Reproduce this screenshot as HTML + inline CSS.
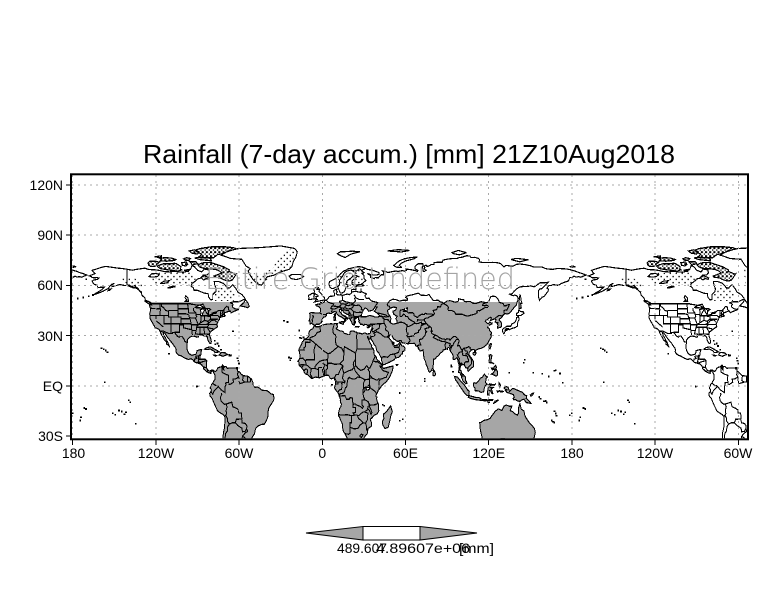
<!DOCTYPE html>
<html><head><meta charset="utf-8"><style>
html,body{margin:0;padding:0;background:#fff;}
svg{display:block;}
text{font-family:"Liberation Sans",sans-serif;}
</style></head><body>
<svg width="784" height="612" viewBox="0 0 784 612" xmlns="http://www.w3.org/2000/svg" xmlns:xlink="http://www.w3.org/1999/xlink">
<defs>
<clipPath id="frame"><rect x="72" y="175.3" width="675" height="263"/></clipPath>
<clipPath id="gclip" clipPathUnits="userSpaceOnUse"><rect x="-180" y="-40" width="335" height="90"/></clipPath>
<pattern id="dense" patternUnits="userSpaceOnUse" x="0" y="0" width="3" height="2.4"><rect x="0" y="0" width="1.5" height="1.2" fill="#000"/><rect x="2.1" y="1.4" width="0.8" height="0.9" fill="#000"/></pattern>
<pattern id="sparse" patternUnits="userSpaceOnUse" x="0" y="0" width="4.3" height="3.6"><rect x="0" y="0" width="1" height="0.8" fill="#000"/><rect x="2.3" y="1.9" width="0.9" height="0.8" fill="#000"/></pattern>
<g id="arc">
<polygon points="-61.9,66.9 -63.5,64.8 -65.2,62.9 -68,62.5 -71.5,63.5 -73.5,64.4 -77.5,64.8 -78.2,65.5 -74,66.8 -72.5,67.4 -74,68.5 -77,69.5 -80.5,69.8 -83,70 -86,70.2 -88.5,71 -89.8,72.2 -87,73.3 -84.5,73.6 -80.5,73.6 -77,72.7 -74,71.8 -71,71 -69,70 -67,69.2 -67.5,68.3 -64.5,67.4 -62.5,66.7"/>
<polygon points="-87.3,64.8 -85.5,65.8 -83.5,65.2 -81.3,64.4 -81.7,63.6 -83.5,64 -85.5,63.2 -86.5,63.7"/>
<polygon points="-118.5,71 -117,70 -113,69.4 -107.5,68.8 -104.5,68.4 -101.3,69.2 -102.3,69.8 -101.9,71.1 -105,72.8 -106.5,73.2 -110,72.8 -114,73 -117,72.2 -119,71.6"/>
<polygon points="-125.2,72 -123.7,71.2 -120.4,71.4 -119.2,72.6 -117.4,73.8 -120.5,74.3 -124.5,74.3 -125.8,73.3"/>
<polygon points="-89.5,76.9 -84,76.4 -78.5,76.4 -75.5,78.3 -72.5,78.8 -68,80.2 -62,81.8 -64,82.5 -70,83 -80,83 -88,82 -91.5,81 -90.5,80 -87,78.5 -88.5,77.3"/>
<polygon points="-92,76.3 -88,75.3 -80,74.6 -80.2,75.6 -81.5,76.5 -85,76.4 -90,76.6"/>
<polygon points="-96,80.5 -92,81.2 -89,80 -90,78.6 -94,79.2"/>
<polygon points="-98,76.5 -100,75.8 -98.5,74.8 -96,75 -95,76"/>
<polygon points="-117,76 -114,76.5 -109,76.3 -105.5,75.4 -106.5,74.8 -112,74.4 -117,74.5 -116,75.4"/>
<polygon points="-101.5,73.5 -98,73.9 -97,72.5 -98.5,71.5 -101,72"/>
<polygon points="-95.5,74 -91,74 -90,73 -93.5,72.1"/>
<polygon points="-99.5,69 -96,69.5 -96.5,68.3"/>
<polygon points="-121,77 -116,77.6 -116,76.5"/>
</g>
<g id="clut">
<polygon points="-122,60.5 -95,60 -90,64 -95,68 -115,68.3 -126,65"/>
<polygon points="-78,50.5 -64,50.5 -62,56 -70,59 -77,58"/>
<polygon points="-140,60 -130,57 -128,60 -135,64 -145,64"/>
<polygon points="9,59 30,60 30,70 20,70 12,65"/>
<polygon points="-55,61 -42,60.2 -38,65.5 -22,70 -20,80 -25,82 -30,78 -36,70 -46,66 -52,68 -56,72"/>
</g>
<g id="land">
<polygon points="-168,65.6 -166,66.3 -164,67 -166,68.9 -163,69.7 -160,70.5 -156.5,71.3 -152,70.8 -148,70.3 -144,70 -141,69.6 -137,69 -134,69.5 -130,70 -128,70.2 -125,69.4 -120,69.2 -117,68.8 -114,68.2 -110,68 -106,68.4 -104,68 -100,67.8 -97,68.5 -95,69.5 -94,71.8 -92,71 -90,69 -87,68 -85,69.7 -82,69.2 -81.5,67.5 -83,66.2 -86,66.2 -87,64.5 -88,64.2 -90,63.8 -91,62.8 -94,61 -94.7,59.5 -93,58.5 -92.5,57 -90,57 -88,56.3 -85,55.3 -82.3,55 -82,53 -80.5,51.3 -79,51.5 -79,54.5 -76.8,56.3 -76.5,58 -77.5,60 -78,62.3 -75,62.3 -71.5,61.2 -69.5,59.5 -69,58.8 -67,58.3 -65,60 -64.5,60.3 -62,57.7 -61,56 -58,54.5 -56,52.5 -55.7,51.6 -57,51.4 -60,50.2 -64,50.2 -66.5,49.5 -65,49.2 -64.3,48.5 -65,47.8 -64.7,46.9 -63,46 -61,45.6 -60,46.2 -60.5,45.5 -63.5,44.5 -65.8,43.6 -66.2,44.5 -67,44.6 -69,44 -70.3,43.6 -70.8,42.5 -70,41.8 -70.5,41.5 -71.5,41.4 -73.5,40.9 -74,40.5 -74.3,39.5 -75,38.8 -75.3,38 -76,37 -75.8,36 -75.5,35.3 -76.5,34.7 -77.8,34 -79,33.2 -80.5,32.3 -81.3,31.2 -81.3,30 -80.5,28.3 -80,26.5 -80.3,25.3 -81,25.2 -81.8,26.2 -82.6,27.6 -82.8,29 -84,30 -85.3,29.7 -86.5,30.4 -88,30.5 -89.3,30.3 -89.4,29.2 -90.5,29 -91.5,29.5 -93.5,29.7 -94.8,29.4 -96.5,28.3 -97.4,27.2 -97.3,25.8 -97.7,24.2 -97.7,22.5 -97.2,21 -96.2,19.3 -95,18.6 -94,18.2 -92.5,18.6 -91.3,18.6 -90.6,19.8 -90.4,21 -88.3,21.5 -87,21.5 -87.5,20 -87.6,18.7 -88.2,17.6 -88.3,16 -87.6,15.8 -86,15.9 -84.3,15.8 -83.3,15 -83.4,13 -83.7,11.2 -83,10 -82,9 -81,8.8 -80,9.3 -79,9.5 -77.8,8.8 -77,8.5 -76,9.5 -75.5,10.5 -74.5,11 -73,11.3 -71.8,12.4 -71,11.5 -71.9,11 -71.6,10 -71,9.5 -71.3,10.8 -70,11.6 -69.5,11.5 -68.5,10.5 -66,10.6 -64,10.6 -62,10.7 -61,10 -61,8.7 -59.8,8.3 -58.5,7 -57,6 -55,5.9 -53.5,5.6 -52,4.6 -51.2,4.1 -50,2 -50,1 -49.5,-0.3 -48.3,-1 -47,-0.7 -45,-1.5 -44,-2.5 -42,-2.8 -40,-2.9 -38.5,-3.7 -37,-4.8 -35.3,-5.2 -34.8,-7.5 -35.3,-9 -36.5,-10.5 -37.5,-11.8 -38.5,-13 -39,-15 -39,-17.5 -39.7,-19.5 -40.5,-21 -41.2,-22.2 -42,-23 -43.5,-23 -44.7,-23.4 -46.5,-24 -48,-25.5 -48.6,-27 -48.8,-28.5 -50,-30 -51,-31.5 -52.5,-33.2 -53.5,-34.2 -54.5,-34.8 -56.5,-34.8 -58.3,-34 -57,-36 -57.3,-37.5 -58,-38.5 -62,-39 -62.3,-40.5 -65,-41 -64,-42.5 -65.3,-44.5 -67.5,-46.3 -66,-47.5 -68,-50 -69,-51.5 -68.5,-52.5 -68.3,-54 -66.5,-55 -70,-55.3 -74,-53 -75.5,-50 -74.5,-46 -73.5,-42.5 -73.6,-40 -73.5,-37.5 -72.5,-35.5 -71.6,-33 -71.5,-30 -71.3,-28 -70.5,-25 -70.3,-22 -70.2,-18.5 -71.5,-17.2 -73.5,-16.2 -75.5,-15 -76.3,-13.5 -77.2,-12 -78.5,-9.5 -79.5,-7.5 -81,-6 -81.2,-4.5 -80.2,-3.4 -80,-2.3 -80.9,-1.3 -80,0.3 -80,0.8 -79,1.5 -78.5,2.5 -77.5,3.8 -77.4,6.5 -78,7.3 -78.5,8.3 -79.5,8.9 -80.5,8 -80.3,7.4 -81.5,7.7 -82.8,8.2 -83.7,8.7 -85,9.8 -85.8,10.2 -85.7,11.2 -87,12.5 -87.7,13 -89.5,13.5 -91.5,13.9 -92.5,14.6 -93.5,15.6 -94.7,16.2 -96.5,15.7 -98.5,16.3 -100.5,17.2 -101.8,17.9 -103.5,18.3 -104.8,19.3 -105.6,20.4 -105.3,21.5 -105.8,22.6 -106.9,23.8 -108.1,25.4 -109.3,26.5 -110.6,27.9 -111.7,29 -112.8,30.5 -113.5,31.3 -114.8,31.8 -114.2,30 -113.2,28.8 -112.3,27.2 -111.3,25.8 -110.6,24.2 -109.9,22.9 -110.3,23.5 -111.5,24.5 -112.2,24.8 -112.3,26.3 -114,27.4 -114.3,28 -115.2,29.6 -116.2,30.8 -116.9,32.2 -117.2,32.7 -117.5,33.4 -118.5,34 -119.5,34.4 -120.6,34.6 -121,35.5 -121.9,36.6 -122.5,37.7 -123,38.3 -123.8,39.5 -124.3,40.4 -124.2,41.8 -124.5,42.8 -124,44.6 -124,46.2 -124.7,48.4 -123.5,48.2 -122.8,49 -124,49.8 -125.5,50.5 -127.5,51 -128,52.5 -130,54 -130.5,55.5 -132,57 -134.5,58.5 -136.5,58.5 -138.5,59.2 -140.5,59.8 -143.5,60 -146,60.5 -148,60 -149.5,59.7 -151.7,59.2 -151.5,60.5 -150,61.2 -152,60.5 -153.5,59.2 -154,58.3 -156.3,57.3 -158,56.5 -160,55.8 -162.5,55 -164.8,54.4 -162.5,55.6 -160,56.8 -158.5,57.8 -157.2,58.8 -160,58.8 -161.8,58.6 -162.3,60 -164.5,60.6 -165.3,61.5 -166,62.5 -164.8,63.2 -162,63.5 -161,64.3 -162.5,64.6 -164.5,64.5 -166,64.6 -166.5,65.2"/>
<polygon points="-5.6,36 -6.3,36.5 -7.5,37.2 -8.9,37 -8.8,38.5 -9.5,38.8 -8.8,41 -8.9,42.5 -9.2,43.2 -8,43.7 -6,43.6 -4,43.4 -1.8,43.4 -1.2,44.5 -1.2,46 -2.2,47.1 -4.3,47.8 -4.7,48.4 -3,48.8 -1.6,48.7 -1.4,49.7 0.2,49.5 1.5,50.1 1.6,50.9 3,51.3 4,51.9 4.7,52.9 5.5,53.4 7,53.5 8.5,53.6 8.9,54.3 8.6,55.5 8.1,56.6 8.6,57.1 10.5,57.7 10.3,56.5 10.8,56 10,55 10.9,54.4 12,54.2 13.5,54.4 14.3,53.9 16,54.3 18,54.8 19.5,54.4 21,55.3 21,56.5 21.2,57.3 22.5,57.7 24.3,57.2 24.4,58.3 23.5,58.7 23.4,59.3 25,59.5 28,59.5 30.2,59.9 29,60.3 27,60.5 23,59.9 21.3,60.8 21.5,62.5 22.5,63.5 24.5,64.8 25.4,65.4 24.6,65.8 22,65.7 21.2,64.8 19.8,63.8 18,62.8 17.3,61.5 17.2,60.6 18.8,60 18.5,59.3 16.7,58.6 16.5,57.2 15.8,56.1 14.2,55.4 12.9,55.5 12.6,56.2 11.8,57.6 11.2,58.9 10.6,59.8 9.9,59 8,58.1 6.5,58.1 5.6,58.8 5,60 5,61.5 5.3,62.3 7,62.9 8.5,63.5 10.5,64.5 12,65.6 13,66.8 14.5,67.8 15.6,68.6 17,69 18.5,69.8 21,70.2 23,70.7 25.5,71.1 28,71 30,70.5 31,70.1 33,69.4 36,69.1 38.5,68.3 41,67.6 41,66.5 38.8,66.1 35.5,66.3 33.5,66.7 32.5,67.1 33.8,66.3 34.8,65.9 34.7,64.6 36.5,64.4 37.5,63.9 38,64.6 40.5,64.5 42.5,66.4 44,66.2 44.3,67.9 43.5,68.6 46,68.2 47,67.6 49,67.9 51,68.3 53.5,68.5 54.5,68.2 56,68.5 58,68.8 59.5,68.4 60.8,68.9 60.3,69.7 64,69.3 67,68.8 68.5,68.2 69,68.9 67,69.8 66.8,70.8 67,71.5 68.5,72.5 69.5,72.9 72.5,72.8 72.8,71.5 71.8,71 72.5,70.2 72.5,68.5 73.6,68.2 74.8,69 73.6,69.8 74,70.8 73.1,71.4 74.8,72.1 75.5,71.3 77,71.5 78.5,72.4 80.5,72.4 80.7,73.6 82.5,73.7 86.5,73.8 87,75 90,75.6 94,76 97,76 98.5,76.5 101,76.8 104.3,77.7 106.5,77.4 107.3,76.5 110,76.7 112.8,76 113.5,75.4 113,74 115,73.7 118.5,73.6 123,73.7 126,73.5 128.5,73 129,72.5 131,71 132.5,71.9 135,71.6 137.5,71.4 140,72.5 142.5,72.7 146,72.4 150,71.7 152.5,70.9 156.5,71 159,70.8 160.8,70 163,69.7 166,69.5 170,70.1 172.5,69.9 175.5,69.8 178.5,69.4 180.5,68.9 183,68.3 185,67.6 187.5,67 190.2,66.1 188.5,65.6 186.5,64.8 185,65.2 183,64.9 181.5,65.5 180.5,64.8 178.5,64.6 177.5,62.6 174.5,61.8 172,60.9 170.3,60 166.3,60.4 164.8,59.8 163.3,59.9 162,58.2 163.2,57.6 162.7,56.2 161.7,55.3 160,53.4 158.5,52.9 156.6,51 156.1,52.5 155.8,55 155.9,56.8 156.8,57.8 158.3,58 160.5,59.8 163,61.8 160,61.5 157,61.5 154.2,59.8 152.7,59.1 150,59.7 148.5,59.4 145.5,59.3 142.2,59 140,57.8 138.2,56.4 137,55 135.2,54.7 136.7,54 138,53.8 138.8,54.2 140.5,53.6 141.4,52.2 141,51 140.5,50 140,48.3 138.5,47 137.5,45.8 135.5,43.9 134.5,43.1 133,42.8 132,43.2 131,42.6 130.5,42.3 129.7,41 128,40 127.5,39.3 128.4,38.6 129.4,37 129.4,35.6 129,35.1 127.8,34.8 126.5,34.4 126.4,35.3 126.8,36.1 126.2,36.9 126.7,37.6 125.3,37.7 124.7,38.1 125.3,39.5 124.5,39.9 122.9,39.6 121.5,39 121.1,38.9 121.6,39.5 122,40.5 121,40.9 120,40.2 119.2,39.5 118,39.2 117.6,38.6 118.3,38 118.8,37.4 119.7,37.1 120.8,37.8 122.5,37.4 122.3,36.9 120.8,36.4 119.6,35.5 119.2,34.7 120.3,34.3 120.8,32.8 121.9,31.8 121.9,30.9 121.3,30.6 122,29.8 121.6,28.8 121.1,28.1 120.4,27.1 119.6,25.9 118.6,24.6 117.3,23.7 116,22.9 114.2,22.3 113.2,22.2 111.8,21.7 110.5,21.2 110.3,20.3 109.9,20.8 109.6,21.6 108.5,21.7 107.3,21.2 106.6,20.6 105.9,19.8 105.6,18.9 106.5,17.7 107.4,16.7 108.4,15.5 108.9,14.6 109.2,13.2 109.2,11.7 108.4,11.1 107.2,10.4 106.4,9.6 105.2,8.7 104.8,9.3 105,10.3 104.4,10.5 103.2,10.9 103,11.7 102.4,12.2 101.7,12.7 100.9,12.6 100.9,13.4 100.1,13.5 100,12.3 99.2,10.4 99.2,9.3 99.9,9.2 100.3,8.3 100.5,7.4 101.1,6.9 101.8,6.8 102.2,6.2 103,5.6 103.4,4.9 103.4,4.2 103.3,3.7 103.5,2.8 103.9,2.5 104.3,1.5 103.5,1.3 102.6,1.9 101.4,2.8 101.1,3.6 100.6,4.8 100.3,5.5 100.1,6.5 99.7,6.8 99.2,7.9 98.3,8 98.4,9.1 98.6,10.5 98.8,11.4 98.5,12.2 98.5,13.1 98.1,13.6 97.8,14.8 97.6,16.1 97.2,16.9 96.5,16.4 95.4,15.7 94.8,15.8 94.2,16 94.5,17.3 94.3,18.2 93.5,19.4 93.1,19.9 92.4,20.7 92,21.2 91.8,22.2 91.4,22.8 90.5,22.8 90.3,21.8 89.7,22 89,21.8 88.2,21.7 86.9,21.2 87,20.7 86.5,20.2 85,19.5 84.1,18.3 82.2,17 81.7,16.3 80.8,15.9 80.3,15.9 80,15.1 80.2,13.8 80.3,13 79.9,12.1 79.9,10.4 79.3,10.3 78.9,9.5 79.2,9.2 78.3,8.9 77.9,8.3 77.5,8 76.6,8.9 76.1,10.3 75.7,11.3 75.4,11.8 74.9,12.7 74.6,14 74.4,14.6 73.5,16 73.1,17.9 72.8,19.2 72.8,20.4 72.6,21.4 71.2,20.8 70.5,20.9 69.2,22.1 69.6,22.5 69.3,22.8 68.2,23.7 67.4,23.9 67.1,24.7 66.4,25.4 64.5,25.2 62.9,25.2 61.5,25.1 59.6,25.4 58.5,25.6 57.4,25.7 56.9,27.1 56.5,27.1 55.7,26.9 54.7,26.5 53.5,26.8 52.5,27.6 51.5,27.9 50.9,28.8 50.1,30.1 49.6,30 48.9,30.3 48.6,29.9 47.9,29.9 48,29 48.8,27.7 49.3,27.5 49.5,26.7 50.1,26.7 50.2,25.6 50.5,25.3 50.8,24.8 51.1,26 51.6,25.8 51.6,25.2 51.4,24.6 52,24 53.4,24.2 54,24.1 54.7,24.8 55.4,25.4 56.1,26.1 56.3,25.7 56.4,24.9 57.4,23.9 58.1,23.7 58.7,23.6 59.5,22.7 59.8,22.3 59.3,21.4 58.5,20.4 58,20.5 57.8,19.1 57.2,18.9 56.6,18.6 56.5,17.9 55.7,17.7 55.3,17.2 54.8,16.9 54.2,17 53.6,16.7 52.4,16.4 52.2,15.9 51.2,15.2 49.6,14.7 48.7,14 48,14 47.4,13.6 46.7,13.4 45.9,13.3 45,12.7 44,12.6 43.5,12.6 43.2,13.2 43.3,13.8 42.9,14.8 42.7,15.7 42.8,16.3 42.3,17.1 41.8,17.8 41.2,18.7 40.9,19.5 40.2,20.2 39.8,20.3 39.1,21.3 39,22 38.5,23.7 38,24.1 37.5,24.3 37.2,24.9 36.9,25.6 36.2,26.6 35.6,27.4 35.1,28.1 34.95,29.5 34.6,28.8 34.3,28 33.6,27.9 32.6,29.9 32.7,28.7 33.3,28 34.1,26.1 34.5,25.6 35.7,23.9 35.5,23.1 36.7,22.2 37.2,21 37.1,19.8 37.5,18.6 37.9,17.6 38.4,17.9 39,16.8 39.3,15.9 39.8,15.4 41.2,14.5 41.7,13.9 42.6,12.7 43.1,12.7 43.3,12 42.7,11.7 43.1,11.5 43.5,11.3 44.1,10.4 44.6,10.4 45.6,10.7 46.6,10.8 47.5,11.1 48.4,11.4 48.9,11.4 50.3,11.7 51.1,11.7 51.1,10.6 50.8,10.3 50.6,9.2 50.1,8.1 49.5,7 48.6,5.3 47.7,4.2 46.6,2.9 45.6,2 44.1,1.1 43.1,0.3 42,-0.9 41.6,-1.7 41,-2 40.3,-2.6 40.1,-3.3 39.6,-4.3 39.2,-4.7 38.7,-5.9 38.8,-6.5 39.4,-6.8 39.2,-7.7 39.3,-8.3 39.5,-9.1 39.9,-10.1 40.5,-10.8 40.4,-11.8 40.6,-12.6 40.6,-14.2 40.8,-14.7 40.5,-15.4 40.1,-16.1 39.5,-16.7 37.4,-17.6 36.3,-18.7 35.2,-19.6 34.8,-19.8 34.7,-20.5 35.2,-21.3 35.4,-22.1 35.5,-23.1 35.6,-23.7 35.5,-24.1 35,-24.5 34.2,-24.8 33,-25.4 32.6,-25.7 32.9,-26.2 32.6,-27.5 32.5,-28.3 32.2,-28.8 31.3,-29.4 30.9,-29.9 30.1,-31.1 28.9,-32.2 28.2,-32.8 27.5,-33.2 26.4,-33.6 25.8,-33.9 24.7,-34 23.6,-33.8 22.6,-33.9 21.5,-34.3 20.1,-34.8 19.2,-34.5 18.4,-34 18.2,-33.9 18.3,-33.3 17.9,-32.6 18.2,-31.7 17.6,-30.7 17.1,-29.9 16.3,-28.6 15.6,-27.8 15.2,-27.1 14.7,-25.4 14.4,-23.9 14.4,-22.7 13.9,-21.7 13.4,-20.9 12.8,-19.7 12.6,-19 11.8,-18.1 11.7,-17.3 11.6,-16.7 11.8,-15.8 12.1,-14.9 12.5,-13.5 13.3,-12.5 13.6,-12 13.7,-11.3 13.7,-10.7 13.1,-9.8 12.9,-8.9 13.2,-8.6 12.9,-7.6 12.7,-6.9 12.2,-6.3 12.2,-5.8 11.9,-5 11.1,-3.9 10.1,-2.9 9.4,-2.1 8.8,-1.1 9,-0.5 9.3,0.3 9.5,1 9.6,2.3 9.8,3.1 9.4,3.7 8.9,3.9 8.5,4.8 7.5,4.4 6.7,4.2 5.9,4.3 5.4,4.9 5,5.6 4.3,6.3 2.7,6.3 1.9,6.1 1.1,5.9 -0.5,5.3 -2,4.7 -3.3,5 -4.6,5.2 -5.8,5 -7.5,4.3 -7.9,4.6 -9,5.5 -9.9,6.2 -10.8,6.7 -11.7,6.9 -12.4,7.3 -13.1,8.2 -13.2,8.9 -13.7,9.5 -14.6,10.2 -14.8,10.9 -15.7,11.5 -16.3,11.8 -16.7,12.4 -16.8,13.2 -16.7,13.6 -17.1,14.4 -17.6,14.7 -17.2,14.9 -16.5,16.1 -16.1,17 -16,17.7 -16.3,19.1 -16.4,19.6 -16.5,20.6 -17,21 -16.9,21.9 -16.3,22.7 -15.8,23.7 -15.1,24.5 -14.8,25.1 -14.4,26.3 -13.8,26.6 -13.1,27.7 -11.7,28.1 -10.4,29.1 -9.6,29.9 -9.8,31.2 -9.3,32.6 -8.7,33.2 -6.9,34.1 -6.2,35.1 -5.9,35.8 -5.2,35.8 -4.6,35.3 -2.6,35.2 -1.2,35.7 0.5,36.3 1.5,36.6 3.2,36.8 4.8,36.9 6.3,37.1 7.7,36.9 8.4,36.9 9.5,37.3 10.2,37.2 10.2,36.7 11,37.1 10.6,36.4 10.6,35.9 10.9,35.7 10.8,34.8 10.1,34.3 10.3,33.8 11.4,33.3 12.7,32.8 13.9,32.7 15.2,32.3 15.7,31.4 16.6,31.2 18,30.8 19.1,30.3 20.1,31 19.8,31.8 20.1,32.2 20.9,32.7 22.9,32.6 23.6,32.2 24.9,31.9 25.2,31.6 27.5,31.3 28.9,30.9 30.1,31.5 31,31.6 32,31 33,31 34.3,31.2 34.6,31.5 35,32.8 35.5,33.9 36,34.6 35.9,35.4 36.1,35.8 35.8,36.3 36.2,36.7 34.7,36.8 34,36.2 32.5,36.1 31.7,36.6 30.6,36.7 30.4,36.3 29.7,36.1 28.7,36.7 27.6,36.7 27,37.7 26.3,38.2 26.8,39 26.2,39.5 26.1,40.8 24.9,40.9 23.7,40.7 24.4,40.1 23.3,40 22.8,40.5 22.8,39.7 23.4,39.2 23,39 23.5,38.5 24,38.2 24,37.7 23.1,37.9 23.4,37.4 22.8,37.3 23.2,36.4 22.5,36.4 21.7,36.8 21.3,37.6 21.1,38.3 20.7,38.8 20.2,39.3 20,40 19.4,40.3 19.3,40.7 19.4,41.4 19.4,41.9 18.9,42.3 18.5,42.6 17.5,42.8 16.9,43.2 16,43.5 15.2,44.2 14.9,44.7 14.9,45.1 14.3,45.2 13.9,44.8 13.7,45.5 13.1,45.7 12.3,45.4 12.4,44.9 12.6,44.1 13.5,43.6 14,42.8 15.1,42 16.2,41.7 15.9,41.5 16.8,41.2 17.5,40.9 18.4,40.4 18.5,40.2 18.3,39.8 17.7,40.3 16.9,40.4 16.4,39.8 17.2,39.4 17.1,38.9 16.6,38.8 16.1,38 15.7,37.9 15.7,38.2 15.9,38.8 16.1,39 15.7,40 15,40.2 14.7,40.6 14.1,40.8 13.6,41.2 12.9,41.3 12.1,41.7 11.2,42.4 10.5,42.9 10.2,43.9 9.7,44 8.9,44.4 8.4,44.2 7.9,43.8 7.4,43.7 6.5,43.1 4.6,43.4 3.1,43.1 3,42.5 3,41.9 2.1,41.2 0.8,41 0.7,40.7 0.1,40.1 -0.3,39.3 0.1,38.7 -0.5,38.3 -0.7,37.6 -1.4,37.4 -2.1,36.7 -4.4,36.7 -5,36.3"/>
<polygon points="-73,78 -68,80.5 -60,82 -45,82.5 -30,83.5 -20,82 -18,80 -19,77 -21,74 -22,71 -24,69.5 -30,68 -35,66 -40,65 -42,62 -44,60 -47,61 -50,63.5 -52,66 -53.5,68.5 -52,70 -55,71.5 -58,75.5 -66,76 -71,77.5"/>
<polygon points="-59.3,47.6 -56.5,49.8 -55.5,51.5 -53.5,49.3 -52.7,47.5 -53.7,46.6 -55.5,47.1 -58.5,47.6"/>
<polygon points="-128.3,50.8 -125,50.2 -123.3,48.4 -124.8,48.7 -127,50"/>
<polygon points="-154,57.5 -152.3,57.8 -153.2,57 -154.5,56.8"/>
<polygon points="-84.9,21.9 -83,22.9 -80.5,23.2 -77.5,21.8 -75.7,21 -74.2,20.2 -77.5,19.8 -78,20.7 -81,22 -82.8,21.6"/>
<polygon points="-74.4,18.4 -72.8,19.9 -70,19.7 -68.4,18.6 -70,18.2 -71.5,17.6"/>
<polygon points="-78.3,18.4 -76.2,18.1 -76.8,17.7 -78,18.1"/>
<polygon points="-67.2,18.5 -65.6,18.4 -65.8,18 -67.2,18"/>
<polygon points="-61.9,10.8 -61,10.8 -61,10.1 -61.9,10.1"/>
<polygon points="-5.7,50 -3,50.5 1.3,51.2 1.7,52.7 0.2,53.5 -0.3,54.5 -1.6,55.6 -2.5,56.3 -1.8,57.6 -4,57.7 -3,58.6 -5,58.6 -6.2,57.5 -5.6,56.3 -6,55.3 -4.7,54.7 -3,54 -3,53.4 -4.6,53.2 -4.2,52.3 -5.3,51.8 -3,51.5 -4.5,51.2"/>
<polygon points="-6,52 -6.2,53.5 -5.5,54.5 -7.2,55.3 -8.5,54.5 -10,54 -9.5,52 -10.3,51.6 -8,51.6"/>
<polygon points="-22.5,64 -24,65.5 -22,66.4 -16,66.5 -13.5,65.2 -15,64.3 -18.7,63.4"/>
<polygon points="10.8,78.8 13,80 17,80.1 22,80.4 27,80 20.5,78.6 16.5,76.6 14,77.4"/>
<polygon points="51.5,71.8 53.5,73.3 55.5,74.6 59,75.8 64,76.6 68.5,76.9 66,75.8 60,74.5 57,73.2 55.5,71.8 57.5,70.6 53.5,70.8"/>
<polygon points="93.5,79.5 98,80.8 104,79.5 101,78.7 99,78.2 95,78.8"/>
<polygon points="136,75.4 140,76.1 145,75.6 148.5,75.3 142.5,74 139,74.7"/>
<polygon points="47,80.5 55,81.3 63,80.8 57,79.9"/>
<polygon points="178.5,71.2 180.5,71.5 182.5,71.1 180.5,70.8"/>
<polygon points="142,46 143.5,46.5 143,49 144,49.2 143.2,51.5 143,54 142.5,54.3 142,51 141.8,48"/>
<polygon points="12.4,38.1 15.6,38.3 15.1,36.7 12.4,37.6"/>
<polygon points="8.2,41 9.6,41 9.7,39.2 8.4,39 8.4,40.4"/>
<polygon points="8.6,42.6 9.4,43 9.5,42 9.2,41.4 8.7,41.8"/>
<polygon points="23.5,35.3 26.3,35.3 26,35 24,35.1"/>
<polygon points="32.3,35 34.6,35.7 33.9,34.9 32.9,34.6"/>
<polygon points="53.3,12.6 54.5,12.7 54.2,12.3 53.5,12.3"/>
<polygon points="49.3,-12 50.5,-15.5 49.5,-17.5 48.8,-20.5 47.5,-24.8 45.2,-25.5 43.7,-23.5 43.3,-21.5 44.4,-19.5 44,-17 46,-15.7 48,-13.5"/>
<polygon points="79.9,6.2 80.1,9.8 81,8.5 81.8,7 81.3,6.2 80.5,5.9"/>
<polygon points="120.2,22.5 120.9,22 121.6,23.5 122,25 121.2,25.2 120.2,23.5"/>
<polygon points="108.6,19.2 109.5,18.2 110.5,18.7 111,19.8 110.3,20.1 109,19.9"/>
<polygon points="120,14.5 120.5,16 120.4,18.4 121.5,18.6 122.3,18.2 122,16.5 121.6,15.8 121.7,14.2 124,13 123,13.6 121,13.7"/>
<polygon points="122,7 123.5,7.8 124.2,9 125.5,9.8 126.5,8 126.2,6.2 125.2,5.8 124,6.4"/>
<polygon points="122,10.5 123.5,10.5 124,11.5 125,12.2 125.7,11 124.8,10 122.5,9.5"/>
<polygon points="109,1.5 109.7,1.8 111,1.5 113,3.2 114,4.6 115.4,5 116.8,7 117.7,6 119.2,5.2 118,4.2 117.8,2 118.9,1 117.5,0 116.8,-1.5 116.4,-3.5 114.5,-4 113,-3.2 111.7,-3 110.2,-2.9 110,-1.3 109,0"/>
<polygon points="95.3,5.6 97.5,5.2 100.3,2.3 102,1 103.7,-1 104.8,-2.5 106,-3.2 105.8,-5.8 104.5,-5.8 102.3,-4 101,-2.4 99,0 97.5,2 96,3.7"/>
<polygon points="105.2,-6.8 106,-5.9 108,-6.3 110.4,-6.9 112.6,-6.9 114.5,-7.7 114.5,-8.7 110,-8.2 106.5,-7.4"/>
<polygon points="115,-8.4 116.8,-8.3 116.7,-8.9 115.1,-8.8"/>
<polygon points="116.9,-8.3 119,-8.4 119,-8.8 117,-9"/>
<polygon points="119.8,-8.4 123,-8.2 122.9,-8.7 119.9,-8.8"/>
<polygon points="119,-9.5 120.8,-9.9 119.5,-9.8"/>
<polygon points="123.6,-10.3 124.5,-9.2 127.2,-8.4 125,-9.8 123.6,-10.4"/>
<polygon points="120.8,1.2 124.3,0.4 125.2,1.4 124.5,0.7 121.5,0.3 120.1,0.5 119.9,-0.5 121.5,-0.9 123.3,-1 121.8,-1.8 123,-4.5 122.5,-4.8 121,-2.7 120.3,-3 120.4,-5.5 119,-5.5 119.2,-3.5 119.7,-1 119.9,0.5"/>
<polygon points="127.5,1.8 128.5,0.5 128,-0.8 127.3,0.4"/>
<polygon points="128,-3 130.8,-3.4 129.5,-3.6 128.2,-3.5"/>
<polygon points="126,-3.2 127.2,-3.3 126.5,-3.8"/>
<polygon points="131,-1.3 132.5,-0.4 134,-0.9 135,-3.3 137.5,-1.5 140,-2.4 144,-3.8 146,-5.5 147.5,-6 147,-7.5 148.5,-8.5 150.5,-10.5 149,-10.3 147,-10 145.5,-8 143.5,-8.5 142.5,-9.3 141,-9.1 139,-8.1 138,-8.4 137.6,-7.5 138.5,-6.8 137.8,-5.3 135,-4.4 133.3,-4 132,-2.8 133.5,-2.3 132,-2.1"/>
<polygon points="150,-5.5 151.5,-4.5 152.3,-4.3 151.8,-5.5 150.5,-6.2"/>
<polygon points="113.5,-22 114,-26.5 115,-30 115,-33.6 116.5,-35 118,-35 120,-34 123.5,-33.9 126,-32.3 129,-31.6 131,-31.5 134,-32.5 136,-34.8 137.5,-34 138,-35.5 139.5,-35.9 140.5,-38 143.5,-38.8 146.3,-39.1 148,-37.8 150,-37.5 150.8,-34.2 152.5,-32 153.6,-28 153,-25.5 151,-23.5 149.5,-22.3 147,-19.2 146,-17.5 145.4,-15 143.5,-14 142.5,-10.7 141.6,-13 141.5,-16.5 140.6,-17.5 139,-16.8 137.5,-15.5 135.5,-14.8 136.7,-12.2 135,-12.2 132.6,-11.5 131,-12.2 129.5,-14.8 127,-13.8 125,-15 123.5,-16.5 122.2,-18 121,-19.5 118.8,-20.3 116.7,-20.6 114.5,-21.8"/>
</g>
<g id="white">
<polygon points="130.8,31 131.4,31.5 132,33.8 135,33.5 136.8,34.3 139,34.7 140.8,35.7 141,38.3 142,39.6 141.4,41.4 140,40.6 139.8,39 138.5,37.7 136.7,37 136,35.6 133,35.5 131,34.4 129.8,33.5 130.2,32"/>
<polygon points="132.5,33 134.7,33.8 134.2,34.3 132.9,34.1"/>
<polygon points="140,42 141.2,41.8 143.2,42 145.5,43.3 145,44.2 143,44.3 141.7,45.4 141.5,43.8 140.2,43.2"/>
<polygon points="28,41.2 28.6,43.5 29.7,45.2 30.8,46.5 32,46.1 33.5,44.5 36.5,45.2 38,47 39.5,47 38,45 37.5,44.5 39.5,43.4 41.5,41.6 40,41 38,41 36,41.7 34,42 31.5,41.2 29.5,41.2"/>
<polygon points="47,45 49.5,46.5 51.5,47 53.5,46.7 53,45.3 51,44.5 51.3,43 52.7,42 54,41.5 53,40 53.9,38.8 54,37.3 51,36.8 49,37.6 49.5,40.2 48.7,41.8 47.5,43"/>
<polygon points="59.5,46 61.5,46.5 61,44.3 58.5,44.5"/>
<polygon points="-92,46.7 -89,48 -86,48.8 -84.8,46.8 -87,46.5 -90,46.6"/>
<polygon points="-87.8,42 -87.5,44 -88,45.5 -85.5,46 -85,45 -86.5,43 -86.5,42"/>
<polygon points="-84.5,45.8 -83.5,43.5 -82.5,43 -81.7,45 -80.5,45.5 -81.5,46.2"/>
<polygon points="-83.4,41.7 -79,42.8 -79.2,42.5 -81.5,41.4"/>
<polygon points="-79.8,43.3 -76.2,44.2 -76.3,43.4 -79,43.2"/>
<polygon points="31.8,-0.5 33.5,0.3 34.5,-0.3 33.8,-2.3 32,-2.6 31.6,-1.5"/>
<polygon points="-125,65.2 -123,66.9 -119.5,67 -117.5,66.3 -119,65.2 -122,64.9"/>
<polygon points="-117,61 -114,62.5 -110.5,62.7 -112,61.5 -115,61"/>
<polygon points="-99,50.4 -96.5,50.5 -96.8,52.5 -98.5,53.8 -99,52.6 -97.8,51.3"/>
<polygon points="-111.5,58.5 -108,59.5 -106,59.2 -109.5,58.5"/>
</g>
<path id="lines" d="M-123,49 L-95,49 -94.6,48.7 -93,48.6 -89.5,48 -88.4,48.3 -84.8,46.5 -83.6,46.1 -82.4,45.3 -82.1,43 -83.1,42 -82.7,41.7 -79.8,42.5 -79.1,43.2 -76.8,43.6 -76.2,44.2 -74.7,45 -71.5,45 -70.2,46.3 -69.2,47.4 -67.8,47 -67.8,45.6 -67,44.8 M-141,69.6 L-141,60.3 -139,60 -137.5,59.2 -135.5,59.8 -133.4,58.4 -131.7,56.6 -130,55.9 M-117.1,32.5 L-114.7,32.7 -111,31.3 -108.2,31.3 -108.2,31.8 -106.5,31.8 -104.5,29.6 -103.1,29 -102.4,29.8 -101.4,29.8 -99.5,27.5 -99.1,26.4 -97.2,25.9 M-124.2,42 L-111,42 M-120,42 L-120,39 -114.6,35.1 M-117,49 L-117,46 -116.5,45.5 -117,44.3 -117,42 M-124,46.3 L-119,46 -116.9,46 M-116,49 L-116,47.5 -114.5,46.7 -113,45 -111,44.5 M-111,45 L-104,45 M-104,49 L-104,41 M-111,45 L-111,41 -104,41 M-114,42 L-114,37 -109,37 -109,41 M-109,41 L-102,41 -102,37 -109,37 M-109,37 L-109,31.3 M-103,37 L-103,32 -106.6,32 M-103,37 L-94.6,37 -94.4,35.4 -94.5,33.6 -96,33.8 -100,34.6 -100,36.5 -103,36.5 M-94.1,33.5 L-94,31.9 -93.6,30 M-102,40 L-95.3,40 M-104,43 L-98.5,43 -96.5,42.5 M-104,46 L-96.6,46 M-97.2,49 L-96.6,46 -96.5,43.5 M-96.5,43.5 L-91.2,43.5 -91,42 -90.6,41.5 -91.4,40.4 -95.8,40.6 -96.4,42.5 M-95.3,40 L-94.6,37 M-94.6,36.5 L-90,36.5 -89.5,36.5 -90.2,38 -91.4,40.4 M-90,36.5 L-91,33 -94,33 M-91,33 L-91.6,31 -89.6,31 -89.6,30.2 M-91,35 L-88.2,35 -88.4,30.4 M-88.2,35 L-85.6,35 -85,32 -85,31 -87.6,31 -87.5,30.3 M-90,36.5 L-81.7,36.6 M-89.5,36.5 L-88,37.5 -84.8,39.1 -82.6,38.5 -82,37.5 M-85,31 L-81.5,30.7 M-85.6,35 L-83.1,35 -81,32.1 M-84.3,35 L-78.5,33.9 M-83,35 L-81.7,36.6 M-81.7,36.6 L-75.8,36.6 M-83.7,36.6 L-81.6,37.5 -80,39 -77.7,39.3 -77,38.8 -76.3,38 M-91,42.5 L-87.5,42.5 M-87.5,41.7 L-87.5,39 -88,37.9 M-84.8,41.7 L-84.8,39.1 M-87.5,41.7 L-80.5,42 M-80.5,42 L-80.5,39.7 -82.6,38.5 M-80.5,42 L-75.3,42 -74.7,41.3 -73.5,41 M-80.5,39.7 L-75.8,39.7 -75.1,40 M-92.8,46.5 L-92.8,45 -91.2,43.5 M-87.8,42.5 L-90.6,42.5 M-73.5,41 L-73.3,42.7 -73.2,45 M-71.8,41.3 L-71.8,42 -73.3,42 M-72.5,42.7 L-71,42.8 M-71.1,45.3 L-70.7,43.1 M-72.5,42.7 L-71.5,45 M-92.2,14.5 L-92,16 -91.4,16 -90.4,16.5 -91.4,17.3 -91,17.8 -89.1,17.8 -88.3,18.5 M-89.2,17.8 L-89.2,15.9 -88.2,15.7 M-89.2,15.9 L-89.3,14.3 -90.1,13.7 M-89.3,14.3 L-88,13.9 -87.8,13.3 M-88,13.9 L-85,14.7 -83.3,15 M-85.7,11.2 L-83.7,10.9 M-82.9,8.1 L-82.6,9.5 M-71.3,11.8 L-72.5,11 -72.5,8.2 -70,7 -67.5,6.2 -67.8,4.2 -67.5,2.1 -69.8,1.7 -69.5,0.5 -70,-0.2 -70,-4.1 -73,-2.4 -75.3,-0.1 -77.4,0.4 -78.8,1.4 M-60.7,8.5 L-61.2,6.7 -60.3,5.2 -62.8,4 -64.5,4.1 -64,2.2 -66.5,0.8 -67.8,1.2 M-60.3,5.2 L-60,2.5 -59.5,1.3 -57,1.9 -56,2.2 -57.5,3.4 -57,6 M-56,2.2 L-54,2.2 -54,5.7 M-54,2.2 L-52,2.2 -51.6,4.1 M-80.3,-3.4 L-79,-5 -78,-3 -75.5,-0.9 -75.3,-0.1 M-73,-4.3 L-72.5,-5 -73.5,-7 -73,-9 -72,-10 -70.6,-11 -69.5,-10.9 M-69.5,-10.9 L-68.7,-12.5 -69.4,-15 -69,-16.5 -69.5,-17.5 -70.4,-18.3 M-69.5,-10.9 L-65.3,-9.8 -64.5,-12.5 -61.8,-13.5 -60.4,-14.4 -60.2,-16.3 -58.3,-16.3 -58,-19.8 M-69.5,-17.5 L-68.5,-19.5 -68.5,-21 -67,-22.8 -65,-22.1 -62.8,-22 -62.3,-21 -62,-20 -58,-19.8 M-62.8,-22 L-61,-23.7 -58,-25.3 -57.6,-27.4 -55.6,-27.3 -54.6,-25.6 -54.3,-24 -55.5,-22.5 -57.8,-22.1 -58,-20 M-54.6,-25.6 L-53.8,-27.2 -55.7,-28.2 -57.6,-30.2 -56,-30.9 -53.4,-33.7 M-57.6,-30.2 L-58.2,-33 -58.4,-33.9 M-67,-22.8 L-68.2,-24.5 -68.5,-27 -69.7,-28.5 -70,-30.5 -70.2,-33 -70.5,-36 -71.2,-40 -71.5,-44 -72,-48 -73,-50 -71,-52 M-1.8,35 L-1.2,32.5 -3.7,31.8 -5,30 -8.7,28.7 -8.7,27.7 -4.8,25 1.2,20.7 4,19.2 5.8,19.5 11.5,23.5 10,24.5 9.5,26.5 9.8,29.5 9.5,30.3 8,31.2 7.5,33.5 8.4,36.2 M-8.7,27.7 L-13.2,27.7 M-8.7,27.3 L-8.7,25.9 -12,26 -12,23.5 -13.1,22.8 -13,21.3 -17,21.3 M-6,21.3 L-5.5,16.4 -5.5,15.5 -11.5,15.5 -12.2,14.8 -14,16.5 -16.5,16.2 M-4.8,25 L-6,21.3 M-12.2,14.8 L-11.5,12.4 -10.5,11.9 -8.5,10.5 -8,10.2 -5.5,10.4 -5.2,11.4 -4.4,12.5 -2,14.5 -0.5,15.1 1.3,15.3 3.6,15.6 4.2,16.8 4.2,19.2 M3.6,15.6 L3.6,11.7 2.8,12.3 2,12.5 0.5,13.3 0.2,14.5 M3.6,11.7 L4.2,13.5 6.5,13.5 9,12.8 12.4,13.1 13.5,13.8 15.3,15.4 15.6,19.9 14,22.5 11.5,23.5 M2.7,6.3 L2.7,9.4 3.6,10.3 3.6,11.7 M12.4,13.1 L14.2,12.5 14.5,11.5 13.3,10 12.5,8.7 11.6,6.7 10,6.8 8.8,4.9 M15.6,19.9 L15.9,23.4 24,19.5 24,15.7 22.5,14 22.3,12.6 22.9,11 21.5,9.6 18.8,8.9 15.5,7.5 14.5,10.5 15.1,11.5 14.2,12.5 M25,31.6 L24.8,30 25,22 24,19.5 M25,22 L36.9,22 M24,15.7 L24,12 22.9,11 M22.9,11 L23.8,8.7 25,7.5 27.4,5.1 30.8,3.6 33.9,4 34,8.6 33,9.6 33.8,10.7 34.3,10.6 35.3,12.2 36.4,14.4 36.5,15 38.3,17.7 M24,12 L25.8,10.4 27.5,9.2 30,9.8 32,12 33.2,10.7 M36.5,15 L38.3,14.3 40,14.3 41.7,13.2 43.1,12.7 M42.7,11 L43.3,9.4 44,9 47.8,8 46,5 44.9,5 43.7,4.3 42,4 41.8,3.9 40.8,4.2 39.6,3.4 38.5,3.6 36.8,4.4 35.9,4.6 35.3,5.5 34,6.5 M42.7,11 L41.8,11.1 41.7,12.5 M41,-1.7 L41,2.8 41.8,3.9 M41,-1.7 L39.2,-4.7 M35.9,4.6 L34.4,4.6 34,4.1 33.9,0.1 34,-1 37.7,-3.1 39.2,-4.7 M33.9,0.1 L29.6,-1.4 M30.8,3.6 L29.7,1.6 29.6,-1.4 29.3,-4.5 29.8,-6.6 30.7,-8.3 32.7,-9.3 33.7,-10.7 34.6,-11.6 M29.3,-4.5 L30.5,-3.4 30.8,-2.3 30.5,-1.1 33.9,-1 M34.6,-11.6 L38,-11.3 40.4,-10.4 M32.7,-9.3 L33.3,-9.7 34,-12.5 35.2,-14.5 35.8,-15.9 35.2,-17.1 33.9,-14.6 32.7,-13.6 33.2,-12 M30.7,-8.3 L28.7,-8.5 28.5,-10 28.6,-11.4 29.6,-12.3 29,-13.4 27.4,-12.3 25.8,-11.8 24.3,-11.3 23.9,-10.8 22.2,-11.1 21.9,-9.5 21.8,-7.3 20,-7 19.4,-8 17.5,-8 16.3,-5.9 12.3,-6.1 M12.2,-5.8 L12.5,-5 13,-4.8 15.2,-4.3 16,-3.5 16.7,-1.2 17.5,-0.7 17.8,0.3 17.9,1.7 18.1,2.4 18.5,4.2 19.5,5 20.9,4.3 22.4,4 23.9,4.2 25.4,5.2 27.4,5.1 M16,2.3 L16.5,3.2 16.1,1.8 14.2,2.2 13,2.3 11.3,2.3 9.8,2.3 M11.3,2.3 L11.3,1 9.3,1 M14.2,2.2 L14,1.4 14.3,-0.3 13.8,-2.1 12.5,-2.4 11.9,-3 11.1,-3.9 M16,2.3 L15,3.9 14.5,4.5 15.3,7.4 M11.7,-17.3 L14,-17.4 18.3,-17.3 21,-17.9 23.2,-17.5 24.7,-17.4 25.3,-17.7 M22,-11 L22,-13 24,-13 24,-16 22.1,-16.2 23.2,-17.5 M21,-17.9 L21,-22 20,-22 20,-24.8 20,-28.4 19,-28.9 16.3,-28.6 M20,-24.8 L20.7,-25 22.8,-25.6 24.2,-25.6 25.6,-25.5 26.4,-24.6 27,-23.6 28.5,-22.7 29.4,-22.1 31.2,-22.3 32,-24.5 32,-26.3 32.9,-26.8 M25.3,-17.7 L26.4,-17.8 28,-16.5 29.5,-15.7 30.3,-15.6 32.9,-16.3 32.7,-18.4 32.7,-20 31.2,-22.3 M25.3,-17.7 L26.2,-19.6 27.7,-20.5 29.4,-22.1 M30.3,-15.6 L33.2,-14 M27,-29.9 L28.1,-28.8 29.4,-29.3 28.3,-30.7 27.5,-30.6 27,-29.9 M-16.7,12.4 L-15,12.6 -13.7,12.6 -12.2,12.4 -11.5,12.4 M-15.1,11 L-13.7,12 M-13.2,8.9 L-12.2,9.9 -11.2,10 -10.6,9.3 -10.5,8.3 -11.4,6.9 M-8.5,7.5 L-8.4,6.4 -7.6,5.5 -7.5,4.4 M-8.5,7.5 L-8.3,8.4 -8,10.2 M-2.8,5 L-2.9,9.6 -2.7,11 M-5.5,10.4 L-4,10 -2.7,9.5 M-2.7,11 L0,11 0.9,11 1.4,11.5 2,12.5 M0,11 L0.5,7.5 1.2,6.1 M1.6,6.2 L1.6,9 0.8,10.7 M36.1,35.8 L36.6,36.8 38,36.8 40.7,37.1 42.4,37.1 44.8,37.2 44.4,38.4 44.8,39.7 43.6,40.3 43.6,41.1 42.8,41.6 41.5,41.5 M42.4,37.1 L41.3,36.4 41,34.4 38.8,33.4 36.9,32.3 35.7,32.7 35.8,33.3 36.6,34.2 35.9,34.7 M38.8,33.4 L39.2,32.2 37,31.5 38,30.5 37.5,29.9 36.5,29.5 35,29.4 M39.2,32.2 L40.4,31.9 42,31.1 44.7,29.2 46.6,29.1 47.5,29 48.4,28.5 M46.6,29.1 L47.7,30.1 48,30 M44.8,37.2 L45.5,35.9 46.1,35.1 45.4,33.9 46.1,33 47.3,32.5 47.8,31.7 47.7,31 48,30.5 48.6,29.9 M42.8,16.4 L43.2,17 44,17.4 46.4,17.2 47,16.9 48.6,18.2 49.1,18.6 52,19 55,20 55.7,22 55.2,22.7 55,23 52,23 51.5,24.3 M52,19 L53.1,16.6 M55.2,22.7 L55.8,24.3 56.4,24.9 M44.8,39.7 L47.5,39.4 48,38.9 48.6,38.3 49,37.6 M54,37.3 L56.2,38 57.4,37.9 59.2,37.4 60.4,36.5 61.2,36.5 61.2,35.6 60.8,34.4 60.5,33.7 60.9,32.2 60.9,31.5 61.7,31.4 61.8,30.7 60.9,29.8 61.4,29.3 62.5,29.4 63.6,29.5 66.3,29.9 66.4,31 68.6,31.7 69.3,31.9 69.5,33 70.9,34 71.1,35.3 71.5,36 73.3,36.7 74.6,37.1 M62.5,29.4 L62.6,28.2 63.3,27.2 63.2,26.6 61.5,25.1 M61.2,35.6 L62.2,35.3 64.5,36.3 66.5,37.4 67.8,37.1 69.2,37.2 70.1,37.6 71.5,37.9 71.4,37.1 72.6,37 74.6,37.1 M68.2,23.7 L69.6,24.3 71.1,24.4 70.3,25.7 70.2,27.7 71.8,27.9 73.9,29.9 74.4,30.9 74.4,31.7 75.3,32.3 74.4,32.8 74.1,34.1 75.8,34.5 76.9,34.7 77.8,35.5 M77.8,35.5 L78.9,34.3 78.8,33.5 79.2,32.5 78.5,32.6 78.7,31.5 79.7,30.9 81.1,30.2 M81.1,30.2 L82.3,30.1 83.3,29.5 84.2,28.8 85.8,28.2 86.9,27.9 88.1,27.9 88.8,27.1 M81.1,30.2 L80.1,28.8 81.1,28.4 83.3,27.4 84.7,27.2 85.3,26.7 87,26.4 88.1,26.4 M88.8,27.1 L89.7,28.1 91.7,27.8 92.1,26.8 M92.1,27.5 L94.6,29.3 96.1,29.5 97.3,28.3 97.4,27.9 M88.1,26.4 L89.4,26 88.6,24.8 88.7,22.9 89,22 M89.4,26 L92,25.2 92.4,24.9 91.8,24.1 92.3,23.2 92.7,22 92.4,20.7 M92.7,22 L93.1,22.7 93.3,24 94.1,23.9 94.6,25 95.2,26 96.4,27.3 97.1,27.7 97.4,27.9 M97.4,27.9 L98.2,27.7 98.7,26.7 97.9,24.9 97.6,23.9 98.9,24.1 99.5,22.9 100.4,21.6 101.2,21.4 100.5,20.1 99.5,20.2 98.5,19.7 97.8,18.6 97.4,18.4 98.9,16.2 98.5,15.3 99.2,13.3 99.2,12.8 99.6,11.9 98.6,10.1 M101.2,21.4 L101.7,22.3 102.2,22.5 M101.2,21.4 L101.3,19.5 101.1,18.4 102.1,18.1 103,18 103.4,18.4 104.7,17.4 104.8,16.4 105.6,15.6 105.6,14.6 105.2,14.3 103.5,14.4 102.6,13.6 102.6,12.2 M102.2,22.5 L103.2,22.6 104.5,22.8 105.3,23.4 106.7,22.8 106.6,22.2 107,21.8 108,21.5 M102.2,22.5 L102.7,21.7 103.2,20.8 104.4,20.8 104.8,19.9 103.9,19.3 105.1,18.7 106.6,17 107.3,15.9 107.6,15.2 107.5,14.2 107.4,12.8 105.8,11.6 105.2,10.9 104.3,10.5 M100.1,6.5 L101.2,5.7 101.8,5.8 102.1,6.2 M87.3,49.2 L88.8,48.5 90.3,47.7 91,46.7 90.6,45.7 91,45 93.5,44.9 95.3,44.2 96.3,42.7 100.8,42.7 103.3,41.9 105,41.6 107.2,42.2 110.4,42.9 111.8,43.7 111.3,44.5 112.4,45 113.5,44.8 116.7,46.4 117.4,46.7 118.9,46.8 119.8,46.7 119.6,47.6 118.9,48 118.1,48.1 117.3,47.7 116.3,47.9 115.5,48.1 116.2,49.1 117.9,49.5 M87.8,49.3 L90,50.6 92.2,50.8 95.8,49.9 98,50.4 98.3,52 100,51.6 102.1,51.3 102.3,50.5 103.7,50.1 104.6,50.3 106.9,50.3 108.5,49.3 110.7,49.1 114.4,50.2 116.7,49.9 117.9,49.5 M117.9,49.5 L119.8,50 121.5,53.3 123.6,53.5 125.1,53.2 126.6,51.8 127.3,50.7 127.6,49.8 129.4,49.4 130.6,48.9 131,47.8 132.5,47.8 133.4,48.2 135,48.5 134.5,47.6 133.7,46.2 133.1,45.1 131.9,45.3 130.9,44.8 131.3,43 130.6,42.4 129.6,41.6 128.1,42 126.9,41.8 125.1,40.6 124.3,39.9 M87.3,49.2 L85.8,48.5 85.2,47 83.2,47.3 82.5,45.5 80.6,45.1 79.9,44.9 80.9,43.2 80.3,42.3 78.6,41.6 77,41.1 76.2,40.4 74.9,40.5 73.8,39.9 73.7,39.4 73.9,38.5 74.9,37.4 74.6,37.1 M74.6,37.1 L75.2,37.1 76.9,35.5 77.8,35.5 M47,49.2 L48,50 48.6,50.8 50.8,51.7 53,51.5 55.7,50.6 58.4,51.1 61.3,51 61.6,52 60,52.8 61,53.6 65.2,54.4 69.2,55.3 71.2,54.1 73.5,54 75.4,53.9 76.9,54.5 78.2,53 80,50.9 83.4,51.1 85.2,50.1 86.8,49.8 87.3,49.2 M47,49.2 L46.8,48.4 47.3,47.7 48.1,47.7 49.1,46.4 M56,45 L58.5,45.6 61.1,44.4 62,43.5 64.9,43.7 66.1,42.9 66,42 67.9,41.1 68.6,40.7 69.1,41.4 70.4,42.1 70.9,42.3 71.8,42.8 73.5,42.5 74.2,43.3 75.6,42.9 77,42.9 79.1,42.8 80.3,42.3 M56,45 L56,41.3 M56,41.3 L57.1,41.3 58.6,42.8 60,42.2 60.1,41.4 61.5,41.3 62.4,40 64.2,39 66.5,38 66.5,37.4 M68.4,38.2 L68.6,39.5 70.7,39.2 71.8,39.3 73.7,39.4 M39.9,43.4 L41.8,43.2 43.8,42.7 45.5,42.4 46.4,41.9 47.4,41.2 48.6,41.8 M41.5,41.5 L43.6,41.1 45,41.3 46.5,41 M-1.8,43.4 L0,42.7 1.4,42.6 3.2,42.4 M-7.5,41.9 L-6.3,41.5 -6.8,40.3 -7.4,39.5 -7,38.8 -7.5,37.2 M2.5,51.1 L3.3,50.8 4.3,49.9 5.9,49.4 6.6,49.2 8.2,48.9 7.6,47.6 6.9,47.5 6,46.3 7,45.9 7,45 6.7,44.2 7.5,43.8 M6,46.3 L7.5,45.9 9,45.8 10.5,46.5 12.2,47.1 13.7,46.5 13.7,45.6 M7.6,47.6 L9.6,47.5 10.4,47.3 12.9,47.5 13.8,48.8 15,49 16.9,48.6 17.1,48 16.5,47.5 16.5,46.5 15.3,46.3 13.7,46.5 M14.2,53.9 L14.6,52.6 14.7,51.3 15,50.9 16.7,50.2 18.6,49.9 19.3,49.6 22.5,49.1 M12.1,50.3 L14.5,50.9 15,50.9 M13.8,48.8 L12.1,50.3 M16.9,48.6 L18.8,49.5 M23.5,53.9 L23.9,52.7 23.2,52.2 24,50.7 22.6,49.5 22.5,49.1 M17.1,48 L18.8,47.8 20.2,48.3 22.1,48.4 22.7,47.9 21.6,46.5 20.2,46.1 18.5,45.8 16.9,46.4 16.5,46.5 M22.1,48.4 L24,47.9 26.6,48.2 28.2,46.9 28.1,45.5 29.7,45.2 M20.2,46.1 L21.5,45.2 22.7,44.3 25,43.7 27.7,44 28.6,43.7 M22.7,44.3 L22.4,42.3 23,41.3 26.1,41.4 27.9,42 M15.3,45.5 L16.5,45.2 19,44.9 19.4,44 19.3,43 18.5,42.5 M19.4,44 L20.3,42.9 20,42 19.5,41.8 M20.6,41.1 L21,40.6 20.7,40.1 20.1,39.6 M20.6,41.1 L21,42.3 22.4,42.3 M21,40.8 L22.5,41.1 23.7,41.3 26.1,41.4 M21,56 L24,56.4 27.6,55.8 28.2,56.2 27.8,57.3 28.1,58 M22.7,54.3 L23.5,53.9 M11.3,59.1 L12.6,60.5 12.2,61.8 12.6,63.2 14.5,65.3 16,67.6 18,68.6 20.6,69.1 22.4,68.7 24.7,68.6 26.9,69.9 28.2,69 M23.9,65.8 L23.6,66.4 23.9,67.6 21,69 M28.2,69 L28.6,68.4 30,67.7 29,66.9 30,65.8 30,64 30.4,63.8 31.5,62.9 29.2,61.3 28,60.6 M28.2,69 L30.8,69.8 M27.6,55.8 L28.2,56.2 31.8,54.9 30.7,53.7 31.8,52.1 33.7,52.3 35.4,50.6 38.2,50.1 40,49.6 38.6,48 38,47.1 M23.9,52.7 L26.5,51.6 30.2,51.5"/>
<path id="dots" d="M-155.5,19.5h1.2v1h-1.2z M-156.8,20.6h1.2v1h-1.2z M-158.2,21.3h1.2v1h-1.2z M-159.8,21.9h1.2v1h-1.2z M-149.8,-17.8h1.2v1h-1.2z M-151.8,-16.8h1.2v1h-1.2z M-145.2,-15.8h1.2v1h-1.2z M-142.2,-16.2h1.2v1h-1.2z M-140.2,-9.2h1.2v1h-1.2z M-139.2,-10.4h1.2v1h-1.2z M-147.2,-15.2h1.2v1h-1.2z M-143.2,-17.4h1.2v1h-1.2z M-135.2,-23.2h1.2v1h-1.2z M-172.2,-13.8h1.2v1h-1.2z M-171,-14.3h1.2v1h-1.2z M-175.2,-21.2h1.2v1h-1.2z M-174.6,-19.2h1.2v1h-1.2z M177.8,-18h1.2v1h-1.2z M179.3,-16.8h1.2v1h-1.2z M166.8,-15.7h1.2v1h-1.2z M167.8,-17h1.2v1h-1.2z M168.3,-18.3h1.2v1h-1.2z M164.8,-21.2h1.2v1h-1.2z M165.8,-21.9h1.2v1h-1.2z M166.6,-22.4h1.2v1h-1.2z M156.8,-8.2h1.2v1h-1.2z M159.3,-9.7h1.2v1h-1.2z M160.5,-9.6h1.2v1h-1.2z M161.3,-10.5h1.2v1h-1.2z M155.8,-7.2h1.2v1h-1.2z M172.8,1.3h1.2v1h-1.2z M-157.6,1.7h1.2v1h-1.2z M170.8,6.8h1.2v1h-1.2z M167.8,8.8h1.2v1h-1.2z M166.8,8.5h1.2v1h-1.2z M158,6.7h1.2v1h-1.2z M151.6,7.2h1.2v1h-1.2z M162.7,5.1h1.2v1h-1.2z M134.3,7.3h1.2v1h-1.2z M144.6,13.2h1.2v1h-1.2z M145.5,15h1.2v1h-1.2z M-91.2,-0.9h1.2v1h-1.2z M-90.5,-0.7h1.2v1h-1.2z M-111.2,18.6h1.2v1h-1.2z M-61.7,16h1.2v1h-1.2z M-61.2,14.4h1.2v1h-1.2z M-60.7,12.8h1.2v1h-1.2z M-77.7,24.3h1.2v1h-1.2z M-78.2,26.4h1.2v1h-1.2z M-76.2,24.8h1.2v1h-1.2z M-75.2,23.3h1.2v1h-1.2z M-73.7,21h1.2v1h-1.2z M-65,32.1h1.2v1h-1.2z M-15.7,27.8h1.2v1h-1.2z M-16.7,28.1h1.2v1h-1.2z M-14.2,28.3h1.2v1h-1.2z M-23.7,14.8h1.2v1h-1.2z M-24.6,16.4h1.2v1h-1.2z M-23.2,16h1.2v1h-1.2z M-28.2,38.4h1.2v1h-1.2z M-25.7,37.6h1.2v1h-1.2z M-17.2,32.5h1.2v1h-1.2z M43.1,-11.9h1.2v1h-1.2z M44.1,-12.4h1.2v1h-1.2z M57.4,-20.5h1.2v1h-1.2z M55.3,-21.3h1.2v1h-1.2z M55.3,-4.8h1.2v1h-1.2z M73.3,3.8h1.2v1h-1.2z M73.2,2.3h1.2v1h-1.2z M92.5,11.8h1.2v1h-1.2z M92.6,10.8h1.2v1h-1.2z M93.6,7.8h1.2v1h-1.2z M8.5,3.3h1.2v1h-1.2z M6.4,0.1h1.2v1h-1.2z M-170.8,63.2h1.2v1h-1.2z M-169,53h1.2v1h-1.2z M-166,53.7h1.2v1h-1.2z M-173,52.2h1.2v1h-1.2z M-177,51.6h1.2v1h-1.2z"/>
</defs>

<!-- map -->
<g clip-path="url(#frame)">
<g transform="matrix(1.3867 0 0 -1.675 322.3 385.8)" shape-rendering="crispEdges">
<g clip-path="url(#gclip)"><use xlink:href="#land" fill="#a6a6a6" stroke="none"/></g>
<use xlink:href="#white" fill="#ffffff" stroke="none"/>
<g stroke="none">
<use xlink:href="#arc" fill="url(#dense)"/>
<use xlink:href="#arc" fill="url(#dense)" transform="translate(360 0)"/>
<use xlink:href="#clut" fill="url(#sparse)"/>
<use xlink:href="#clut" fill="url(#sparse)" transform="translate(360 0)"/>
</g>
<g fill="none" stroke="#000" stroke-width="0.72">
<use xlink:href="#land"/>
<use xlink:href="#land" transform="translate(360 0)"/>
<use xlink:href="#land" transform="translate(-360 0)"/>
<use xlink:href="#arc"/>
<use xlink:href="#arc" transform="translate(360 0)"/>
<use xlink:href="#white"/>
<use xlink:href="#white" transform="translate(360 0)"/>
<use xlink:href="#lines"/>
<use xlink:href="#lines" transform="translate(360 0)"/>
<use xlink:href="#lines" transform="translate(-360 0)"/>
</g>
<g fill="#000" stroke="none">
<use xlink:href="#dots"/>
<use xlink:href="#dots" transform="translate(360 0)"/>
<use xlink:href="#dots" transform="translate(-360 0)"/>
</g>
</g>
<!-- grid -->
<g stroke="#a8a8a8" stroke-width="1" stroke-dasharray="2,4" fill="none" shape-rendering="crispEdges">
<path d="M72,184.8H747 M72,235H747 M72,285.3H747 M72,335.5H747 M72,385.8H747"/>
<path d="M72.7,175V438 M155.9,175V438 M239.1,175V438 M322.3,175V438 M405.5,175V438 M488.7,175V438 M571.9,175V438 M655.1,175V438 M738.3,175V438"/>
</g>
<text x="205" y="289" font-size="29" fill="#a4a4a4" textLength="310" lengthAdjust="spacingAndGlyphs" style="font-family:'DejaVu Sans','Liberation Sans',sans-serif;font-weight:200">Entire Grid Undefined</text>
</g>

<!-- frame -->
<rect x="71" y="174.3" width="677" height="265" fill="none" stroke="#000" stroke-width="2"/>
<g stroke="#000" stroke-width="1" shape-rendering="crispEdges">
<path d="M66,184.8H71 M66,235H71 M66,285.3H71 M66,335.5H71 M66,385.8H71 M66,436H71"/>
<path d="M72.7,440V445 M155.9,440V445 M239.1,440V445 M322.3,440V445 M405.5,440V445 M488.7,440V445 M571.9,440V445 M655.1,440V445 M738.3,440V445"/>
</g>

<!-- labels -->
<g font-size="14" fill="#000" text-anchor="end">
<text x="63" y="190">120N</text>
<text x="63" y="240">90N</text>
<text x="63" y="290">60N</text>
<text x="63" y="341">30N</text>
<text x="63" y="391">EQ</text>
<text x="63" y="441">30S</text>
</g>
<g font-size="14" fill="#000" text-anchor="middle">
<text x="73.5" y="458">180</text>
<text x="156" y="458">120W</text>
<text x="239" y="458">60W</text>
<text x="322.3" y="458">0</text>
<text x="405.5" y="458">60E</text>
<text x="488.7" y="458">120E</text>
<text x="572" y="458">180</text>
<text x="655" y="458">120W</text>
<text x="738" y="458">60W</text>
</g>

<text x="143" y="163" font-size="26" fill="#000" textLength="532" lengthAdjust="spacingAndGlyphs">Rainfall (7-day accum.) [mm] 21Z10Aug2018</text>

<!-- colorbar -->
<polygon points="306,533 363,526.5 363,540" fill="#a6a6a6" stroke="#000" stroke-width="1"/>
<rect x="363" y="526.5" width="57" height="13.5" fill="#fff" stroke="#000" stroke-width="1"/>
<polygon points="420,526.5 477,533 420,540" fill="#a6a6a6" stroke="#000" stroke-width="1"/>
<g font-size="14" fill="#000">
<text x="337" y="553" textLength="50" lengthAdjust="spacingAndGlyphs">489.607</text>
<text x="376" y="553" textLength="94" lengthAdjust="spacingAndGlyphs">4.89607e+06</text>
<text x="459" y="553" textLength="35" lengthAdjust="spacingAndGlyphs">[mm]</text>
</g>
</svg>
</body></html>
